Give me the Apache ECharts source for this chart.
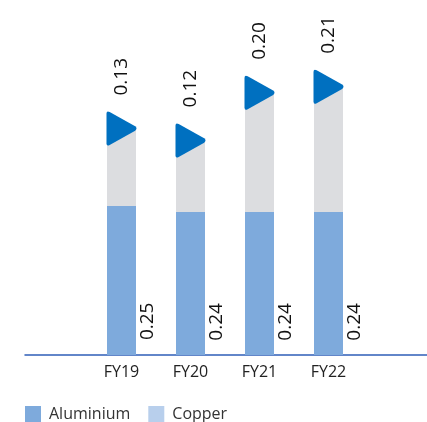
<!DOCTYPE html>
<html>
<head>
<meta charset="utf-8">
<script src="https://cdn.jsdelivr.net/npm/echarts@6/dist/echarts.min.js"></script>
<style>
  html, body { margin: 0; padding: 0; background: #ffffff; }
  #chart { width: 427px; height: 422px; }
</style>
</head>
<body>
<div id="chart"></div>
<script>
// Metal intensity by fiscal year
const categories = ['FY19', 'FY20', 'FY21', 'FY22'];
const aluminium = [0.25, 0.24, 0.24, 0.24];
const copper = [0.13, 0.12, 0.20, 0.21];

const totals = aluminium.map((v, i) => +(v + copper[i]).toFixed(2));

const FONT = '"Open Sans", "Noto Sans", sans-serif';
const fmt = p => p.value.toFixed(2);

// right-pointing marker with softened corners
const arrowPath = 'path://M0,3 Q0,0 3,1.5 L27,14.5 Q29.5,16.5 27,18.5 L3,31.5 Q0,33 0,30 Z';

const chart = echarts.init(document.getElementById('chart'), null, { renderer: 'canvas' });

chart.setOption({
  animation: false,
  backgroundColor: '#ffffff',
  grid: [
    { left: 87, right: 64, top: 57, bottom: 67 },
    { left: 25, right: 0, top: 57, bottom: 67 }
  ],
  legend: {
    left: 25,
    top: 406,
    padding: 0,
    itemWidth: 16,
    itemHeight: 16,
    itemGap: 18,
    icon: 'rect',
    textStyle: { fontFamily: FONT, fontSize: 16, color: '#333333', padding: [0, 0, 0, 3] },
    data: [
      { name: 'Aluminium', itemStyle: { color: '#7eaadc' } },
      { name: 'Copper', itemStyle: { color: '#b8cfec' } }
    ]
  },
  xAxis: [
    {
      type: 'category',
      gridIndex: 0,
      data: categories,
      axisLine: { show: false },
      axisTick: { show: false },
      axisLabel: { fontFamily: FONT, fontSize: 16, color: '#222222', margin: 9 }
    },
    {
      type: 'value',
      gridIndex: 1,
      min: 0,
      max: 1,
      axisLine: { show: true, lineStyle: { color: '#2f5fb8', width: 1.5 } },
      axisTick: { show: false },
      axisLabel: { show: false },
      splitLine: { show: false }
    }
  ],
  yAxis: [
    { type: 'value', gridIndex: 0, min: 0, max: 0.5, show: false, splitLine: { show: false } },
    { type: 'value', gridIndex: 1, min: 0, max: 1, show: false, splitLine: { show: false } }
  ],
  series: [
    {
      name: 'Aluminium',
      type: 'bar',
      stack: 'metal',
      barWidth: 29,
      data: aluminium,
      itemStyle: { color: '#7eaadc' },
      label: {
        show: true,
        position: ['141%', '90%'],
        rotate: 90,
        align: 'left',
        verticalAlign: 'middle',
        formatter: fmt,
        fontFamily: FONT,
        fontSize: 19,
        color: '#111111'
      }
    },
    {
      name: 'Copper',
      type: 'bar',
      stack: 'metal',
      barWidth: 29,
      data: copper,
      itemStyle: { color: '#dcdde0' },
      label: {
        show: true,
        position: 'top',
        distance: 33,
        rotate: 90,
        align: 'left',
        verticalAlign: 'middle',
        formatter: fmt,
        fontFamily: FONT,
        fontSize: 19,
        color: '#111111'
      }
    },
    {
      name: 'Total',
      type: 'scatter',
      data: totals,
      symbol: arrowPath,
      symbolSize: [30, 34],
      itemStyle: { color: '#0070c0', opacity: 1 },
      z: 5,
      silent: true
    }
  ]
});
</script>
</body>
</html>
